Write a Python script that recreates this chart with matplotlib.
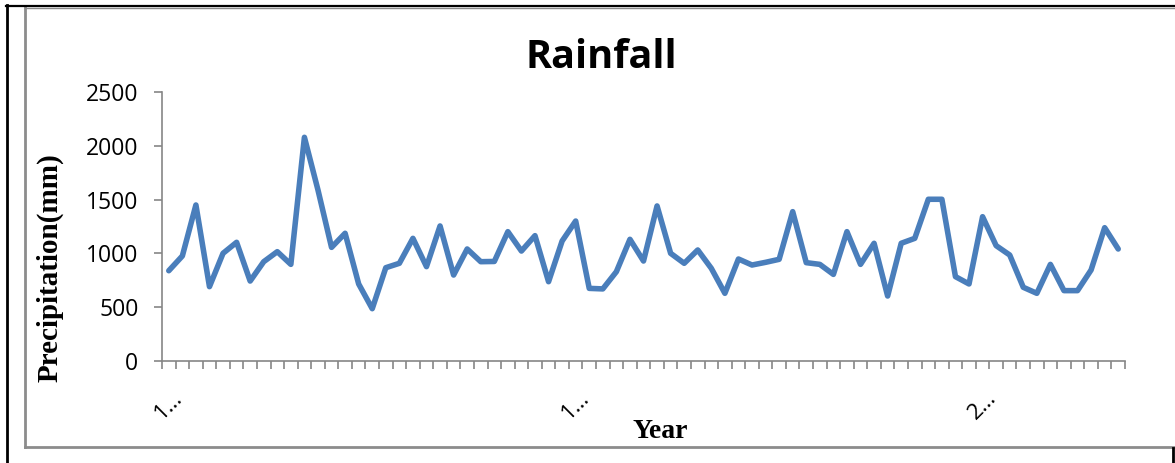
import matplotlib
matplotlib.use("Agg")
import matplotlib.pyplot as plt
import numpy as np
from matplotlib.lines import Line2D

# ---- data ----
years = list(range(1941, 2012))
rainfall = [839, 976, 1450, 691, 1001, 1103, 743, 923, 1016, 898,
            2079, 1589, 1056, 1187, 716, 486, 867, 908, 1140, 877,
            1255, 799, 1041, 923, 925, 1202, 1022, 1165, 737, 1115,
            1301, 675, 670, 830, 1131, 929, 1441, 1001, 908, 1032,
            861, 629, 948, 892, 917, 945, 1388, 914, 898, 805,
            1202, 898, 1094, 604, 1094, 1140, 1503, 1503, 784, 716,
            1341, 1072, 985, 685, 629, 898, 654, 654, 846, 1239, 1041]
yticks = [0, 500, 1000, 1500, 2000, 2500]
label_idx = [0, 30, 60]
xlabels = [str(years[i])[0] + "\u2026" for i in label_idx]

W, H = 1175, 463
fig = plt.figure(figsize=(W / 100, H / 100), dpi=100)

def fx(px):
    return px / W

def fy(py):
    return 1 - py / H

# frames
fig.add_artist(Line2D([fx(25), fx(25)], [fy(7), fy(447)], color="#8c8c8c", lw=2.0))
fig.add_artist(Line2D([fx(25), fx(1176)], [fy(447), fy(447)], color="#8c8c8c", lw=2.0))
fig.add_artist(Line2D([fx(25), fx(1176)], [fy(7.5), fy(7.5)], color="#8c8c8c", lw=1.0))
fig.add_artist(Line2D([fx(7), fx(7)], [fy(5), fy(464)], color="black", lw=2.0))
fig.add_artist(Line2D([fx(6), fx(1176)], [fy(6), fy(6)], color="black", lw=1.6))
fig.add_artist(Line2D([fx(1173), fx(1173)], [fy(448), fy(464)], color="black", lw=2.0))

ax = fig.add_axes([fx(162), fy(361), (1125 - 162) / W, (361 - 92) / H])
x = np.arange(len(rainfall))
ax.plot(x, rainfall, color="#4a7ebb", lw=4.0, solid_joinstyle="round", solid_capstyle="round")

ax.set_xlim(-0.5, len(rainfall) - 0.5)
ax.set_ylim(0, 2500)
ax.set_yticks(yticks)
ax.set_yticklabels([str(v) for v in yticks], fontfamily="Open Sans", fontsize=16.5)
ax.tick_params(axis="y", direction="out", length=6, width=1.2, color="#868686", pad=11)

ax.set_xticks(label_idx)
ax.set_xticklabels(xlabels, rotation=45, fontfamily="Open Sans", fontsize=16)
ax.set_xticks(np.arange(-0.5, len(rainfall), 1), minor=True)
ax.tick_params(axis="x", which="major", length=0, pad=19)
ax.tick_params(axis="x", which="minor", direction="out", length=6, width=1.2, color="#868686")

for s in ["top", "right"]:
    ax.spines[s].set_visible(False)
for s in ["left", "bottom"]:
    ax.spines[s].set_color("#868686")
    ax.spines[s].set_linewidth(1.2)

fig.text(fx(601.5), fy(57), "Rainfall", fontfamily="Open Sans", fontweight="bold",
         fontsize=28.5, ha="center", va="center")
fig.text(fx(50), fy(268), "Precipitation(mm)", fontfamily="Liberation Serif", fontweight="bold",
         fontsize=21, rotation=90, ha="center", va="center")
fig.text(fx(660), fy(431), "Year", fontfamily="Liberation Serif", fontweight="bold",
         fontsize=20, ha="center", va="center")

fig.savefig("out.png", dpi=100)
